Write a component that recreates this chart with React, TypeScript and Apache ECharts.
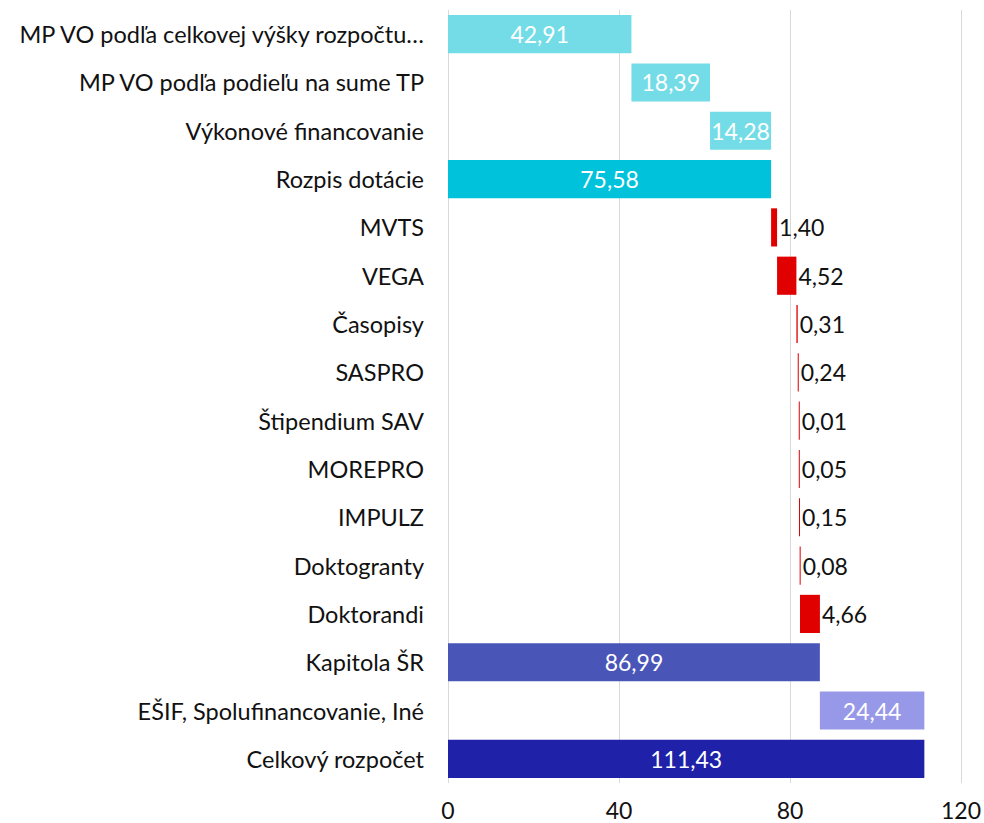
import React, { useEffect, useRef } from "react";
import * as echarts from "echarts";

const categories = [
  "MP VO podľa celkovej výšky rozpočtu…",
  "MP VO podľa podieľu na sume TP",
  "Výkonové financovanie",
  "Rozpis dotácie",
  "MVTS",
  "VEGA",
  "Časopisy",
  "SASPRO",
  "Štipendium SAV",
  "MOREPRO",
  "IMPULZ",
  "Doktogranty",
  "Doktorandi",
  "Kapitola ŠR",
  "EŠIF, Spolufinancovanie, Iné",
  "Celkový rozpočet",
];
const values = [42.91, 18.39, 14.28, 75.58, 1.4, 4.52, 0.31, 0.24, 0.01, 0.05, 0.15, 0.08, 4.66, 86.99, 24.44, 111.43];
// "d" = step added to running total, "t" = total bar starting at 0
const kinds = ["d", "d", "d", "t", "d", "d", "d", "d", "d", "d", "d", "d", "d", "t", "d", "t"];
const colors = [
  "#74DCE7", "#74DCE7", "#74DCE7", "#00C3DB",
  "#E00000", "#E00000", "#E00000", "#E00000", "#E00000", "#E00000", "#E00000", "#E00000", "#E00000",
  "#4A55B8", "#9898E8", "#1F22A8",
];
const xTicks = [0, 40, 80, 120];

export default function App() {
  const ref = useRef<HTMLDivElement>(null);
  useEffect(() => {
    if (!ref.current) return;
    const chart = echarts.init(ref.current, undefined, { renderer: "svg" });
    const bases: number[] = [];
    let running = 0;
    values.forEach((v, i) => {
      if (kinds[i] === "t") {
        bases.push(0);
        running = v;
      } else {
        bases.push(running);
        running += v;
      }
    });
    const font = "Lato, 'Open Sans', sans-serif";
    chart.setOption({
      animation: false,
      grid: { left: 448, right: 22, top: 10, bottom: 40 },
      xAxis: {
        type: "value",
        min: xTicks[0],
        max: xTicks[xTicks.length - 1],
        interval: 40,
        axisLine: { show: false },
        axisTick: { show: false },
        axisLabel: { fontFamily: font, fontSize: 23, color: "#111", margin: 15 },
        splitLine: { show: true, lineStyle: { color: "#D9D9D9", width: 1 } },
      },
      yAxis: {
        type: "category",
        inverse: true,
        data: categories,
        axisLine: { show: false },
        axisTick: { show: false },
        axisLabel: { fontFamily: font, fontSize: 23.5, color: "#111", margin: 24 },
      },
      series: [
        {
          type: "bar",
          stack: "w",
          data: bases,
          itemStyle: { color: "rgba(0,0,0,0)", borderWidth: 0 },
          silent: true,
          barCategoryGap: "21%",
        },
        {
          type: "bar",
          stack: "w",
          barCategoryGap: "21%",
          barMinHeight: 1,
          data: values.map((v, i) => ({
            value: v,
            itemStyle: { color: colors[i], borderWidth: 0 },
            label:
              colors[i] === "#E00000"
                ? { position: "right", color: "#111", distance: 2 }
                : { position: "inside", color: "#fff" },
          })),
          label: {
            show: true,
            fontFamily: font,
            fontSize: 23,
            formatter: (p: any) => p.value.toFixed(2).replace(".", ","),
          },
        },
      ],
    });
    return () => chart.dispose();
  }, []);
  return <div ref={ref} style={{ width: 984, height: 823, position: "absolute", left: 0, top: 0 }} />;
}
